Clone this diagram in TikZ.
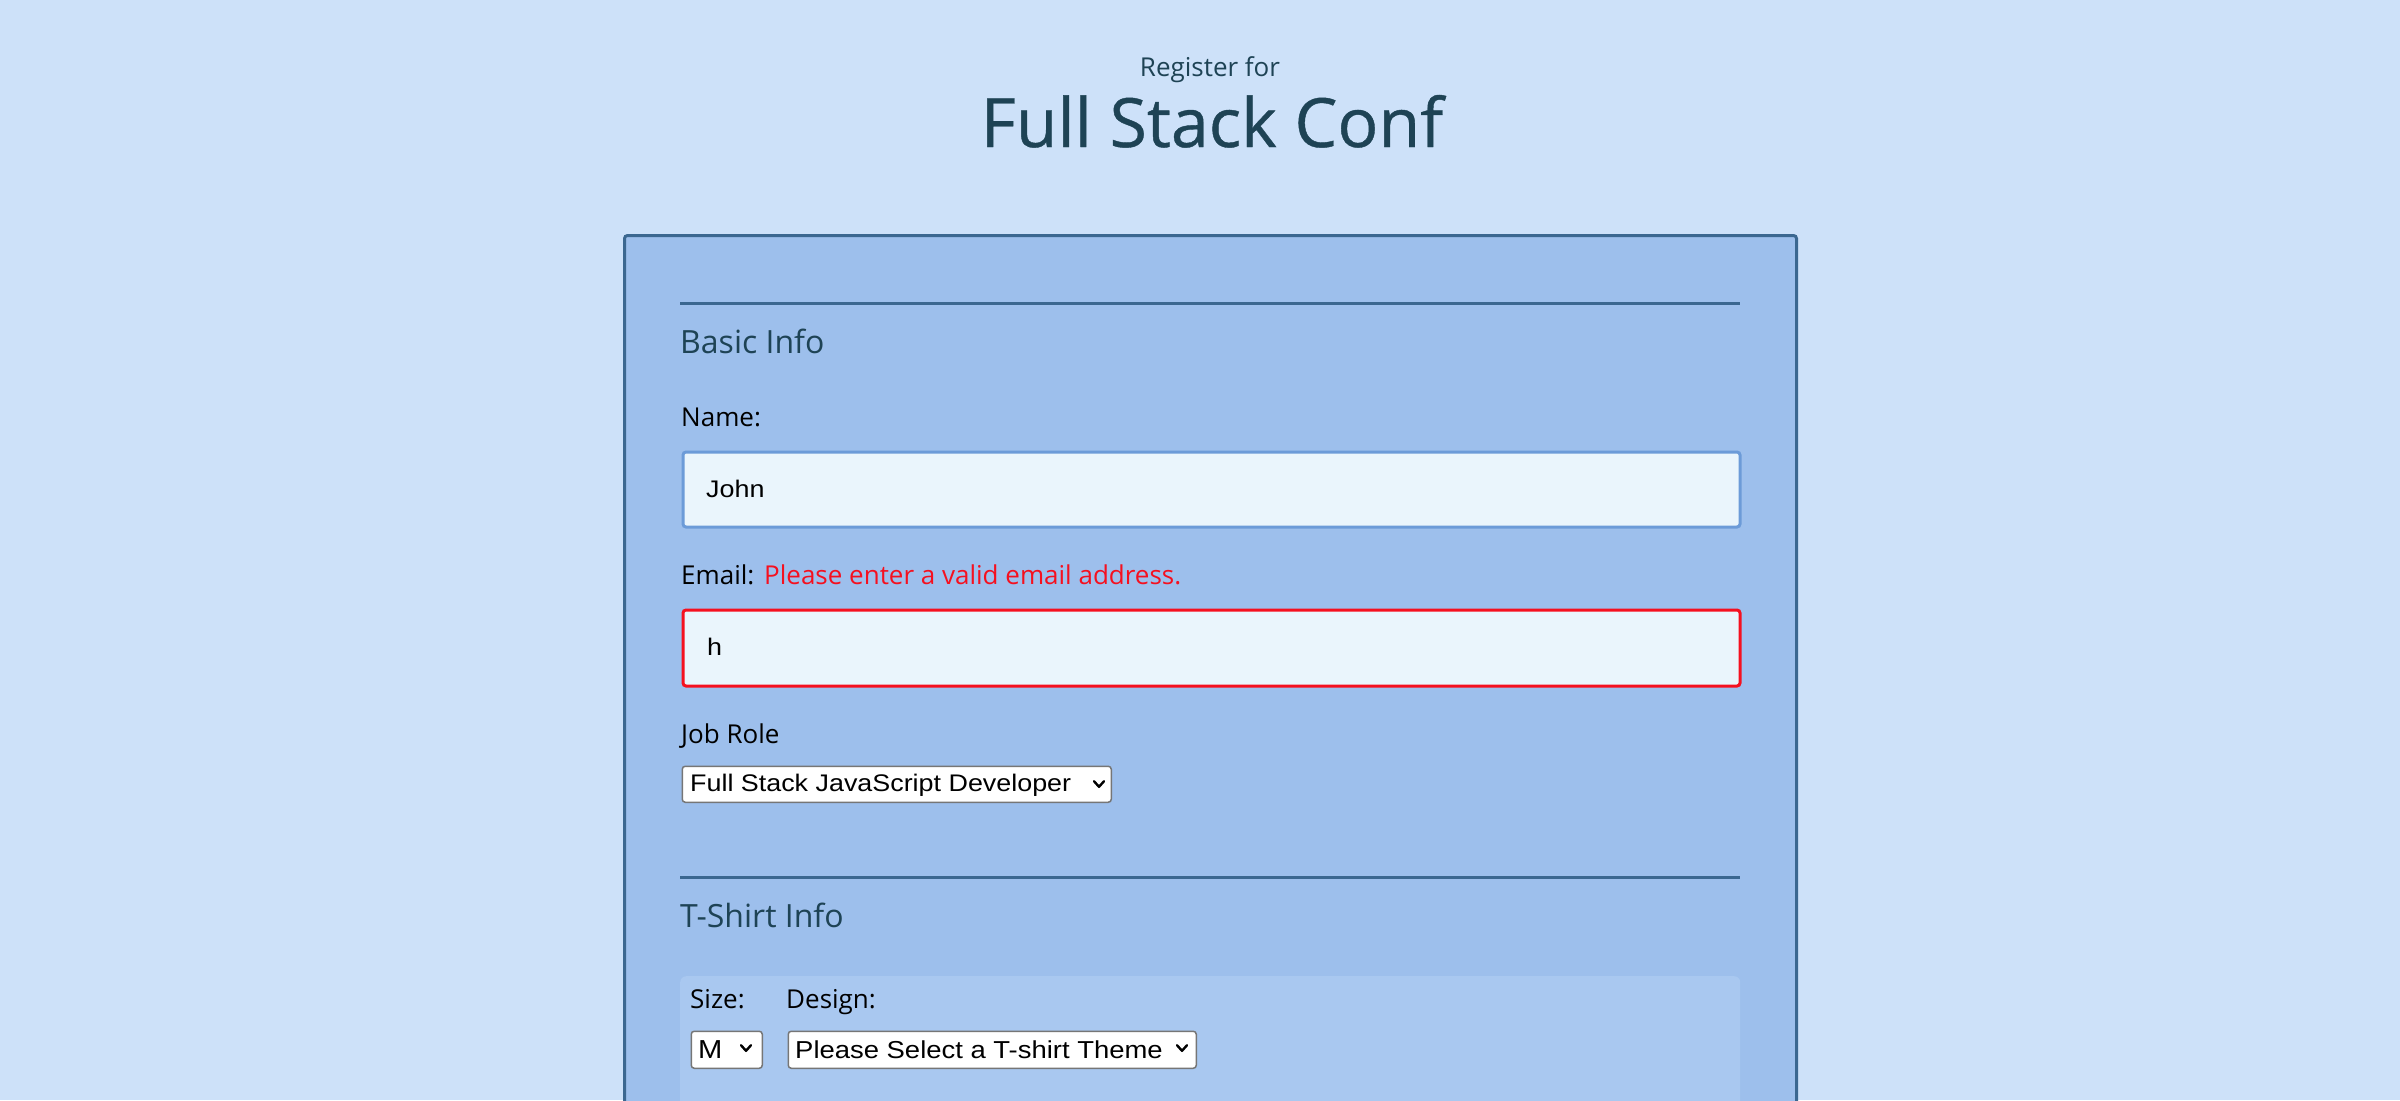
\documentclass[tikz,border=0pt]{standalone}
\usepackage{fontspec}
\setmainfont{Open Sans}
\newfontfamily\titlef[FakeBold=0.6]{Open Sans}
\newfontfamily\arialf[FakeStretch=1.12]{Liberation Sans}
\definecolor{bg}{HTML}{CDE1F9}
\definecolor{panel}{HTML}{9DBFEC}
\definecolor{panelborder}{HTML}{3B6790}
\definecolor{innerbg}{HTML}{A9C8F0}
\definecolor{titlec}{HTML}{1E4355}
\definecolor{inputfill}{HTML}{EAF5FC}
\definecolor{namebord}{HTML}{6C9BD8}
\definecolor{errred}{HTML}{F5101F}
\definecolor{selbord}{HTML}{767676}
\begin{document}
\begin{tikzpicture}[x=1pt,y=-1pt,
  lbl/.style={inner sep=0pt, anchor=base west, font=\fontsize{26}{30}\selectfont, text=black},
  heading/.style={inner sep=0pt, anchor=base west, font=\fontsize{32}{38}\selectfont, text=titlec},
  inputbox/.style={draw, line width=3pt, fill=inputfill, rounded corners=3pt, anchor=north west, inner sep=0pt, minimum width=1057pt, minimum height=75pt},
  inputtext/.style={inner sep=0pt, anchor=base west, font=\arialf\fontsize{24}{30}\selectfont, text=black},
  selbox/.style={draw=selbord, line width=1.5pt, fill=white, rounded corners=3pt, anchor=north west, inner sep=0pt},
  seltext/.style={inner sep=0pt, anchor=base west, font=\arialf\fontsize{24}{28}\selectfont, text=black},
  rulestyle/.style={draw=panelborder, line width=3pt},
  chev/.pic={\draw[line width=2.4pt, line cap=round, line join=round] (-5,-2.8) -- (0,2.8) -- (5,-2.8);}
]
\useasboundingbox (0,0) rectangle (2400,1100);
\clip (0,0) rectangle (2400,1100);
\fill[bg] (0,0) rectangle (2400,1100);

% header
\node[inner sep=0pt, anchor=base, font=\fontsize{26}{30}\selectfont, text=titlec] (reg) at (1210,76) {Register for};
\node[inner sep=0pt, anchor=base, font=\titlef\fontsize{68}{80}\selectfont, text=titlec] (title) at (1212,147) {Full Stack Conf};

% panel
\draw[panelborder, fill=panel, line width=3pt, rounded corners=3pt] (624.5,235.5) rectangle (1796.5,1160);
\coordinate (r1a) at (680,303);
\coordinate (r1b) at (1740,303);
\draw[rulestyle] (r1a) -- (r1b);
\node[heading] (basic) at (680,353) {Basic Info};

\node[lbl] (namelbl) at (681,426.5) {Name:};
\node[inputbox, draw=namebord] (namebox) at (681.5,450.5) {};
\node[inputtext] (john) at (706,497) {John};

\node[lbl] (emaillbl) at (681,584) {Email:};
\node[lbl, text=errred, anchor=base west] (emailerr) at (764,584) {Please enter a valid email address.};
\node[inputbox, draw=errred, minimum height=76pt] (emailbox) at (681.5,608.5) {};
\node[inputtext] (hval) at (707,655) {h};

\node[lbl] (jobl) at (681,743) {Job Role};
\node[selbox, minimum width=429pt, minimum height=36pt] (jobsel) at (681.5,765.5) {};
\node[seltext] (jobtxt) at (690,791.5) {Full Stack JavaScript Developer};
\pic at (1099,784) {chev};

\coordinate (r2a) at (680,877);
\coordinate (r2b) at (1740,877);
\draw[rulestyle] (r2a) -- (r2b);
\node[heading] (tshirt) at (680,927) {T-Shirt Info};

\node[fill=innerbg, rounded corners=6pt, anchor=north west, inner sep=0pt, minimum width=1060pt, minimum height=200pt] (innerbox) at (680,976) {};
\node[lbl] (sizel) at (690,1008) {Size:};
\node[lbl] (designl) at (786,1008) {Design:};
\node[selbox, minimum width=71pt, minimum height=37pt] (sizesel) at (690.5,1030.5) {};
\node[seltext, font=\arialf\fontsize{26}{28}\selectfont] (mtxt) at (698,1058) {M};
\pic at (746,1048) {chev};
\node[selbox, minimum width=408pt, minimum height=37pt] (designsel) at (787.5,1030.5) {};
\node[seltext, font=\arialf\fontsize{24.5}{28}\selectfont] (designtxt) at (795,1058) {Please Select a T-shirt Theme};
\pic at (1182,1048) {chev};
\end{tikzpicture}
\end{document}
